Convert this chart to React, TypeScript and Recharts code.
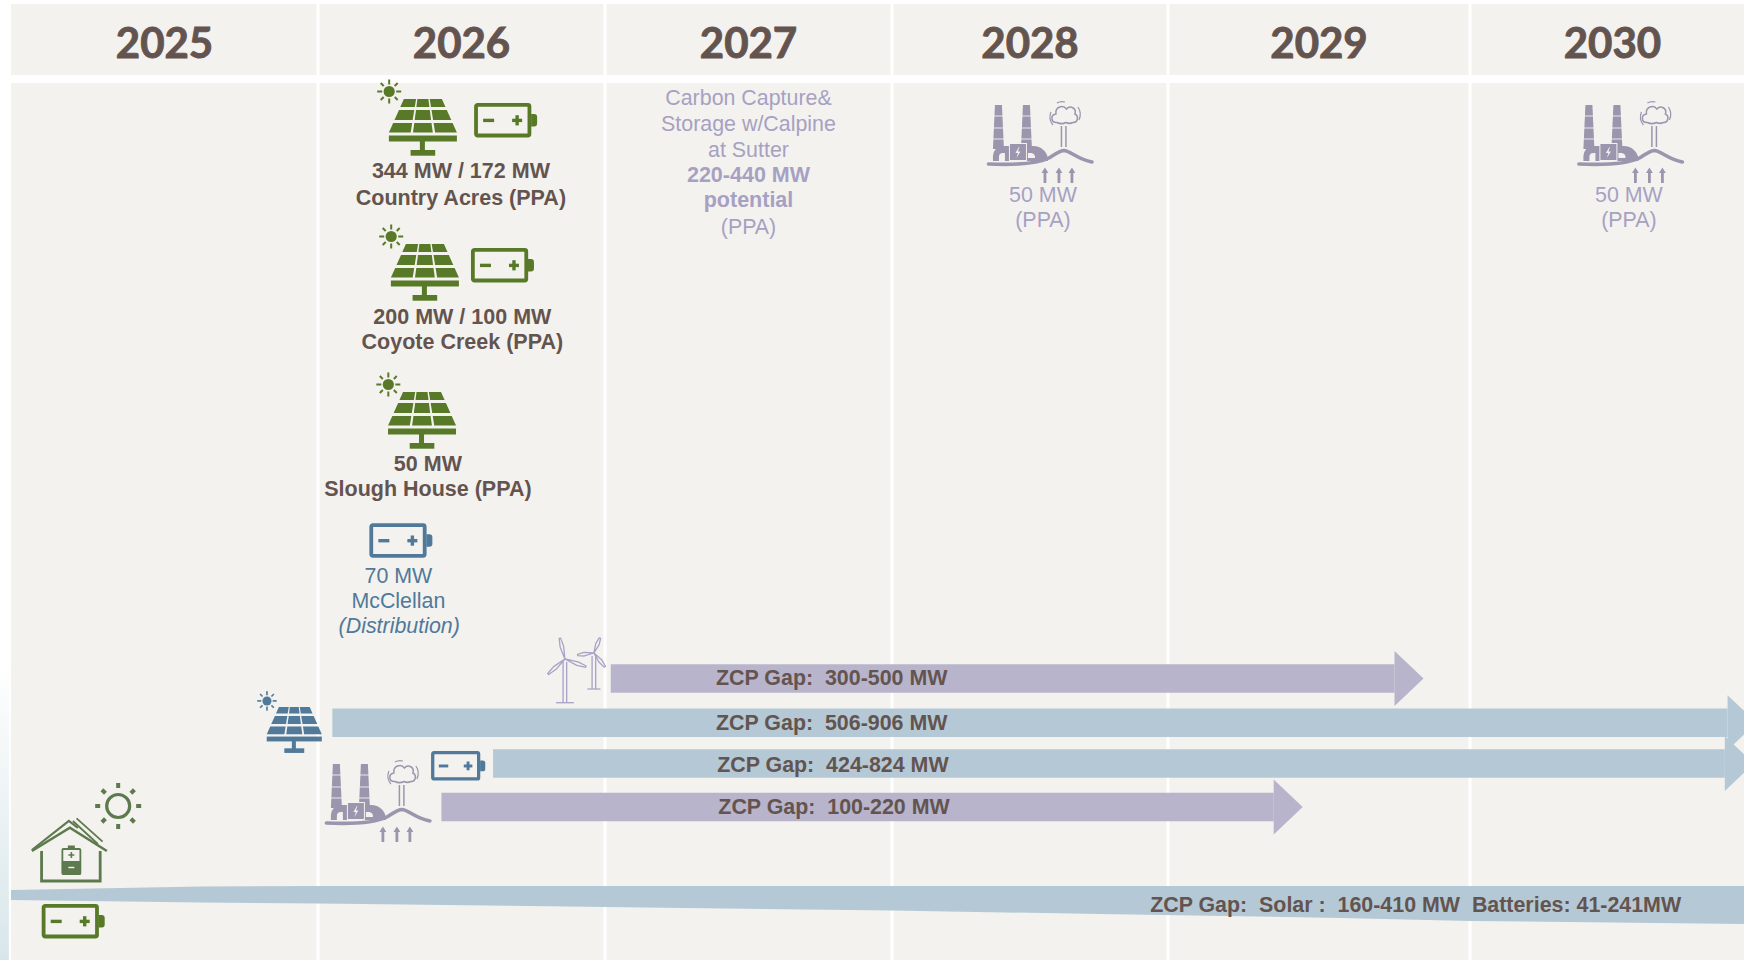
import React from "react";
import {
  Area,
  CartesianGrid,
  ComposedChart,
  Line,
  ReferenceArea,
  ReferenceLine,
  Scatter,
  XAxis,
  YAxis,
} from "recharts";

// x is a decimal year, y is a "row" on the sheet (0 at the top, 96 at the bottom)
const headerTicks = [2025.5, 2026.5, 2027.5, 2028.5, 2029.5, 2030.52];
const yearLines = [2026, 2027, 2028, 2029, 2030];

const purpleArrows = [
  { start: 2027.02, end: 2029.75, row: 67.85 },
  { start: 2026.43, end: 2029.35, row: 80.7 },
];
const blueArrows = [
  { start: 2026.05, end: 2030.94, row: 72.27 },
  { start: 2026.61, end: 2030.93, row: 76.35 },
];

const customerBand = [
  { year: 2025.0, band: [89.0, 90.0] },
  { year: 2025.62, band: [88.65, 90.25] },
  { year: 2026.0, band: [88.6, 90.35] },
  { year: 2027.0, band: [88.6, 90.7] },
  { year: 2028.0, band: [88.6, 91.05] },
  { year: 2028.75, band: [88.6, 91.4] },
  { year: 2029.57, band: [88.6, 91.8] },
  { year: 2030.0, band: [88.6, 92.1] },
  { year: 2031.0, band: [88.6, 92.4] },
];

const gapLabels = [
  { year: 2027.79, row: 67.8, text: "ZCP Gap:  300-500 MW" },
  { year: 2027.79, row: 72.3, text: "ZCP Gap:  506-906 MW" },
  { year: 2027.794, row: 76.5, text: "ZCP Gap:  424-824 MW" },
  { year: 2027.798, row: 80.7, text: "ZCP Gap:  100-220 MW" },
  { year: 2029.82, row: 90.5, text: "ZCP Gap:  Solar :  160-410 MW  Batteries: 41-241MW" },
];

const projectLabels = [
  { year: 2026.498, row: 17.12, text: "344 MW / 172 MW" },
  { year: 2026.498, row: 19.78, text: "Country Acres (PPA)" },
  { year: 2026.503, row: 31.66, text: "200 MW / 100 MW" },
  { year: 2026.503, row: 34.22, text: "Coyote Creek (PPA)" },
  { year: 2026.383, row: 46.38, text: "50 MW" },
  { year: 2026.383, row: 48.92, text: "Slough House (PPA)" },
];

const blueNotes = [
  { year: 2026.28, row: 57.55, text: "70 MW" },
  { year: 2026.28, row: 60.05, text: "McClellan" },
];
const blueItalicNotes = [{ year: 2026.283, row: 62.6, text: "(Distribution)" }];

const purpleNotes = [
  { year: 2027.5, row: 9.8, text: "Carbon Capture&" },
  { year: 2027.5, row: 12.35, text: "Storage w/Calpine" },
  { year: 2027.5, row: 14.95, text: "at Sutter" },
  { year: 2027.5, row: 22.65, text: "(PPA)" },
  { year: 2028.547, row: 19.45, text: "50 MW" },
  { year: 2028.547, row: 22.0, text: "(PPA)" },
  { year: 2030.58, row: 19.45, text: "50 MW" },
  { year: 2030.58, row: 22.0, text: "(PPA)" },
];
const purpleBoldNotes = [
  { year: 2027.5, row: 17.45, text: "220-440 MW" },
  { year: 2027.5, row: 20.0, text: "potential" },
];

// icon anchors, top-left corner of each glyph
const greenSolar = [
  { year: 2026.247, row: 9.9 },
  { year: 2026.254, row: 24.4 },
  { year: 2026.244, row: 39.2 },
];
const blueSolar = [{ year: 2025.833, row: 70.7 }];
const greenBatteries = [
  { year: 2026.544, row: 10.3 },
  { year: 2026.533, row: 24.8 },
  { year: 2025.1, row: 90.4 },
];
const blueBatteries = [{ year: 2026.179, row: 52.33 }];
const smallBlueBatteries = [{ year: 2026.394, row: 75.1 }];
const plants = [
  { year: 2028.344, row: 10.3 },
  { year: 2030.392, row: 10.3 },
  { year: 2026.024, row: 76.2 },
];
const turbines = [{ year: 2026.801, row: 63.77 }];
const homes = [{ year: 2025.068, row: 81.8 }];

const WIDTH = 1744;
const HEIGHT = 960;
const PANEL = "#f4f2ee";
const TEXT = "#64544f";
const PURPLE_BAR = "#b8b4cb";
const BLUE_BAR = "#b4c9d5";
const GREEN = "#587a28";
const BLUE = "#50799a";
const PLANT = "#9b95ae";
const PURPLE_TEXT = "#a6a1c3";
const SANS = "'Liberation Sans', Arial, sans-serif";

// the columns are not equally wide, so the year axis is piecewise linear
const YEAR_KNOTS = [2024.964, 2025, 2026, 2027, 2028, 2029, 2030, 2031];
const PIXEL_KNOTS = [0, 11, 318, 605, 892, 1168, 1470, 1744];

function yearScale(): any {
  let dom = [YEAR_KNOTS[0], YEAR_KNOTS[YEAR_KNOTS.length - 1]];
  let rng = [0, WIDTH];
  const scale: any = (v: number) => {
    let i = 0;
    while (i < YEAR_KNOTS.length - 2 && v > YEAR_KNOTS[i + 1]) i++;
    const t = (v - YEAR_KNOTS[i]) / (YEAR_KNOTS[i + 1] - YEAR_KNOTS[i]);
    return PIXEL_KNOTS[i] + t * (PIXEL_KNOTS[i + 1] - PIXEL_KNOTS[i]);
  };
  scale.domain = (d?: number[]) => {
    if (d === undefined) return dom;
    dom = d;
    return scale;
  };
  scale.range = (r?: number[]) => {
    if (r === undefined) return rng;
    rng = r;
    return scale;
  };
  scale.copy = () => yearScale();
  scale.ticks = () => headerTicks;
  return scale;
}

function SolarGlyph({ color }: { color: string }) {
  const rows = [
    [0, 8],
    [11, 21],
    [24, 33.5],
  ];
  const cols = [
    [0, 0.32],
    [0.355, 0.645],
    [0.68, 1],
  ];
  const px = (u: number, y: number) => {
    const left = 15 * (1 - y / 33.5);
    return (left + (68 - 2 * left) * u).toFixed(1);
  };
  return (
    <g fill={color}>
      {rows.map(([y0, y1]) =>
        cols.map(([u0, u1]) => (
          <polygon
            key={`${y0}-${u0}`}
            points={`${px(u0, y0)},${y0} ${px(u1, y0)},${y0} ${px(u1, y1)},${y1} ${px(u0, y1)},${y1}`}
          />
        )),
      )}
      <rect x={0} y={36.5} width={68} height={6} />
      <rect x={31} y={42} width={5} height={10} />
      <rect x={21.7} y={51} width={24.6} height={5.7} />
      <circle cx={0.3} cy={-7.5} r={5.6} />
      {[0, 45, 90, 135, 180, 225, 270, 315].map((a) => (
        <rect
          key={a}
          x={-1}
          y={-12}
          width={2}
          height={a % 90 === 0 ? 5 : 4.2}
          transform={`translate(0.3,-7.5) rotate(${a})`}
        />
      ))}
    </g>
  );
}

function BatteryGlyph({ color }: { color: string }) {
  return (
    <g>
      <rect x={1.9} y={1.9} width={53.4} height={30.6} rx={1.5} fill="none" stroke={color} strokeWidth={3.8} />
      <path d="M57 11 h3 a3 3 0 0 1 3 3 v6.5 a3 3 0 0 1 -3 3 h-3 z" fill={color} />
      <rect x={9} y={15.7} width={11} height={3.4} fill={color} />
      <rect x={38} y={15.7} width={10} height={3.4} fill={color} />
      <rect x={41.3} y={12.2} width={3.4} height={10.2} fill={color} />
    </g>
  );
}

function Chimney({ x }: { x: number }) {
  return (
    <g>
      <polygon points={`${x + 2},2 ${x + 9},2 ${x + 11},46 ${x},46`} fill={PLANT} />
      {[13, 25, 36].map((y) => (
        <line key={y} x1={x - 1} x2={x + 12} y1={y} y2={y} stroke={PANEL} strokeWidth={0.9} />
      ))}
    </g>
  );
}

function PlantGlyph() {
  return (
    <g>
      <Chimney x={6} />
      <Chimney x={34} />
      <path d="M6 58 v-5 a10 10 0 0 1 10 -10 h30 a15 15 0 0 1 15 12 v3 z" fill={PLANT} />
      <path d="M12 58 v-4 a4 4 0 0 1 4 -4 h2 v8 z" fill={PANEL} />
      <rect x={22.5} y={40.5} width={17} height={17} fill={PLANT} stroke={PANEL} strokeWidth={1} />
      <path d="M32 44 l-3.5 6 h2.5 l-1.5 5 l4 -6.5 h-2.5 l1.5 -4.5 z" fill={PANEL} />
      <path d="M41 50 h3 a4 4 0 0 1 4 5 h-7 z" fill={PANEL} />
      <path
        d="M1.5 61 C 25 62 50 61 62 55 C 70 50 73 47.5 77 47.5 C 84 48 90 56 105 59"
        fill="none"
        stroke={PLANT}
        strokeWidth={3.6}
        strokeLinecap="round"
      />
      {[58, 72, 85].map((x) => (
        <g key={x}>
          <line x1={x} x2={x} y1={67} y2={80} stroke={PLANT} strokeWidth={2.8} />
          <polygon points={`${x - 3.4},70 ${x},64.5 ${x + 3.4},70`} fill={PLANT} />
        </g>
      ))}
      <line x1={74.5} x2={74.5} y1={23} y2={44} stroke={PLANT} strokeWidth={1.5} />
      <line x1={79} x2={79} y1={23} y2={44} stroke={PLANT} strokeWidth={1.5} />
      <path
        d="M70 19.5 C64 20 63 12 69 11 C68 4 76 1 79.5 6 C83 2 90 5 88 11 C92 13 91 20 86 19.5 C83 21 81 20.5 79 19.5 C76 21 73 21 70 19.5 Z"
        fill="none"
        stroke={PLANT}
        strokeWidth={1.5}
      />
      <path d="M64 9 a13 13 0 0 0 2 13" fill="none" stroke={PLANT} strokeWidth={1.2} />
      <path d="M91 4 a13 13 0 0 1 1 13" fill="none" stroke={PLANT} strokeWidth={1.2} />
      <path d="M70 0 a10 10 0 0 1 8 -1" fill="none" stroke={PLANT} strokeWidth={1.2} />
    </g>
  );
}

function Turbine({ hub, tips, base, foot }: any) {
  const stroke = "#a9a2c6";
  return (
    <g fill="none" stroke={stroke} strokeWidth={1.3} strokeLinejoin="round">
      {tips.map(([tx, ty]: number[]) => {
        const dx = tx - hub[0];
        const dy = ty - hub[1];
        const len = Math.hypot(dx, dy);
        const nx = (-dy / len) * 1.8;
        const ny = (dx / len) * 1.8;
        const mx = hub[0] + dx * 0.6;
        const my = hub[1] + dy * 0.6;
        return (
          <path
            key={`${tx}-${ty}`}
            d={`M${hub[0]} ${hub[1]} L${mx + nx} ${my + ny} L${tx + nx * 0.4} ${ty + ny * 0.4} L${tx - nx * 0.4} ${ty - ny * 0.4} L${mx - nx} ${my - ny} Z`}
          />
        );
      })}
      <path d={`M${hub[0] - 1.8} ${hub[1] + 3} V${base} M${hub[0] + 1.8} ${hub[1] + 3} V${base}`} />
      <path d={`M${hub[0] - foot} ${base} H${hub[0] + foot}`} />
    </g>
  );
}

function TurbineGlyph() {
  return (
    <g>
      <Turbine hub={[17, 21.3]} tips={[[12, 0.6], [38, 29], [0.3, 36.3]]} base={65} foot={9} />
      <Turbine hub={[46, 15.3]} tips={[[52, 0.3], [29.7, 17.3], [57, 29]]} base={51.3} foot={6.5} />
    </g>
  );
}

function HomeGlyph() {
  const green = "#5d7a4e";
  return (
    <g>
      <path d="M9.7 33 V63 H68.3 V33" fill="none" stroke={green} strokeWidth={2.8} />
      <path d="M0 33 L38 9.7 L75 33" fill="none" stroke={green} strokeWidth={2.6} />
      <path d="M0 32 L37 3 L46 10" fill="none" stroke={green} strokeWidth={2.2} />
      <path d="M44.7 0.3 L70.7 23.7 M41 3 L66 26" fill="none" stroke={green} strokeWidth={1.8} />
      <rect x={30.5} y={31} width={18} height={25} rx={1} fill="none" stroke={green} strokeWidth={1.8} />
      <rect x={30} y={43} width={19} height={13.5} fill={green} />
      <rect x={36} y={27.5} width={7} height={3.5} fill={green} />
      <path d="M39.5 34 v6 M36.5 37 h6" stroke={green} strokeWidth={1.6} />
      <path d="M36.5 49.5 h6" stroke={PANEL} strokeWidth={1.4} />
      <g transform="translate(86.3,-12)">
        <circle r={11.5} fill="none" stroke={green} strokeWidth={3.2} />
        {[0, 45, 90, 135, 180, 225, 270, 315].map((a) => (
          <rect key={a} x={-2} y={-23} width={4} height={5} fill={green} transform={`rotate(${a})`} />
        ))}
      </g>
    </g>
  );
}

const glyphShape = (glyph: React.ReactNode, scale = 1) => (p: any) => (
  <g transform={`translate(${p.cx},${p.cy}) scale(${scale})`}>{glyph}</g>
);

const textShape = (fill: string, size: number, weight = 400, italic = false) => (p: any) => (
  <text
    x={p.cx}
    y={p.cy}
    fill={fill}
    textAnchor="middle"
    dominantBaseline="central"
    fontFamily={SANS}
    fontSize={size}
    fontWeight={weight}
    fontStyle={italic ? "italic" : "normal"}
    style={{ whiteSpace: "pre" }}
  >
    {p.payload.text}
  </text>
);

function renderHeaderTick(p: any) {
  return (
    <text
      x={p.x}
      y={41.5}
      fill={TEXT}
      stroke={TEXT}
      strokeWidth={0.9}
      textAnchor="middle"
      dominantBaseline="central"
      fontFamily="Lato, sans-serif"
      fontSize={42}
      fontWeight={700}
    >
      {Math.floor(p.payload.value)}
    </text>
  );
}

const arrowHead = (color: string, half: number) => (p: any) =>
  p.index === 1 ? (
    <polygon
      key={p.index}
      points={`${p.cx},${p.cy - half} ${p.cx + half + 1.5},${p.cy} ${p.cx},${p.cy + half}`}
      fill={color}
    />
  ) : (
    <g key={p.index} />
  );

function arrowLine(a: { start: number; end: number; row: number }, color: string) {
  return (
    <Line
      key={`${a.start}-${a.row}`}
      data={[
        { year: a.start, row: a.row },
        { year: a.end, row: a.row },
      ]}
      dataKey="row"
      type="linear"
      stroke={color}
      strokeWidth={28.5}
      dot={arrowHead(color, 27.5)}
      activeDot={false}
      legendType="none"
      isAnimationActive={false}
    />
  );
}

export default function App() {
  return (
    <div style={{ position: "absolute", left: 0, top: 0, width: WIDTH, height: HEIGHT, background: "#fff" }}>
      <ComposedChart width={WIDTH} height={HEIGHT} margin={{ top: 0, right: 0, bottom: 0, left: 0 }}>
        <defs>
          <linearGradient id="edgeFade" x1="0" y1="0" x2="0" y2="1">
            <stop offset="0%" stopColor="#ffffff" />
            <stop offset="100%" stopColor="#d8e6ea" />
          </linearGradient>
        </defs>
        <CartesianGrid
          x={11}
          y={4}
          width={WIDTH - 11}
          height={HEIGHT - 4}
          fill={PANEL}
          fillOpacity={1}
          horizontal={false}
          verticalValues={yearLines}
          stroke="#ffffff"
          strokeWidth={3}
          strokeOpacity={1}
        />
        <XAxis
          type="number"
          dataKey="year"
          orientation="top"
          mirror
          domain={[YEAR_KNOTS[0], 2031]}
          scale={yearScale()}
          ticks={headerTicks}
          interval={0}
          axisLine={false}
          tickLine={false}
          tick={renderHeaderTick}
        />
        <YAxis type="number" dataKey="row" domain={[0, 96]} reversed hide width={0} />

        <ReferenceArea x1={YEAR_KNOTS[0]} x2={2024.993} y1={66} y2={96} fill="url(#edgeFade)" fillOpacity={1} stroke="none" />
        <ReferenceLine y={7.9} stroke="#ffffff" strokeWidth={8} segment={[{ x: 2025, y: 7.9 }, { x: 2031, y: 7.9 }]} />

        <Area
          data={customerBand}
          dataKey="band"
          type="linear"
          fill={BLUE_BAR}
          fillOpacity={1}
          stroke="none"
          dot={false}
          activeDot={false}
          isAnimationActive={false}
        />
        {purpleArrows.map((a) => arrowLine(a, PURPLE_BAR))}
        {blueArrows.map((a) => arrowLine(a, BLUE_BAR))}

        <Scatter data={greenSolar} shape={glyphShape(<SolarGlyph color={GREEN} />)} isAnimationActive={false} />
        <Scatter data={blueSolar} shape={glyphShape(<SolarGlyph color={BLUE} />, 0.81)} isAnimationActive={false} />
        <Scatter data={greenBatteries} shape={glyphShape(<BatteryGlyph color={GREEN} />)} isAnimationActive={false} />
        <Scatter data={blueBatteries} shape={glyphShape(<BatteryGlyph color={BLUE} />)} isAnimationActive={false} />
        <Scatter data={smallBlueBatteries} shape={glyphShape(<BatteryGlyph color={BLUE} />, 0.86)} isAnimationActive={false} />
        <Scatter data={plants} shape={glyphShape(<PlantGlyph />)} isAnimationActive={false} />
        <Scatter data={turbines} shape={glyphShape(<TurbineGlyph />)} isAnimationActive={false} />
        <Scatter data={homes} shape={glyphShape(<HomeGlyph />)} isAnimationActive={false} />

        <Scatter data={gapLabels} shape={textShape(TEXT, 21.4, 700)} isAnimationActive={false} />
        <Scatter data={projectLabels} shape={textShape(TEXT, 21.5, 700)} isAnimationActive={false} />
        <Scatter data={blueNotes} shape={textShape(BLUE, 21.4)} isAnimationActive={false} />
        <Scatter data={blueItalicNotes} shape={textShape(BLUE, 21.4, 400, true)} isAnimationActive={false} />
        <Scatter data={purpleNotes} shape={textShape(PURPLE_TEXT, 21.4)} isAnimationActive={false} />
        <Scatter data={purpleBoldNotes} shape={textShape(PURPLE_TEXT, 21.5, 700)} isAnimationActive={false} />
      </ComposedChart>
    </div>
  );
}
